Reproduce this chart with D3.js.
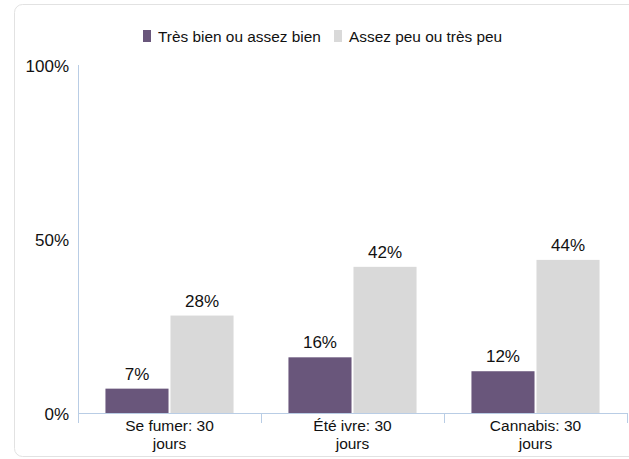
<!DOCTYPE html>
<html>
<head>
<meta charset="utf-8">
<script src="https://cdn.jsdelivr.net/npm/d3@7"></script>
<style>
body { margin: 0; background: #fff; }
text { font-family: "Liberation Sans", Arial, sans-serif; fill: #111; }
</style>
</head>
<body>
<div id="chart"></div>
<script>
// data
var categories = [["Se fumer: 30", "jours"], ["Été ivre: 30", "jours"], ["Cannabis: 30", "jours"]];
var series = ["Très bien ou assez bien", "Assez peu ou très peu"];
var goodValues = [7, 16, 12];
var lowValues = [28, 42, 44];
var yTicks = [0, 50, 100];
var colors = ["#69567b", "#d9d9d9"];

var svg = d3.select("#chart")
    .append("svg")
    .attr("width", 629)
    .attr("height", 459);

// card border
svg.append("rect")
    .attr("x", 14.5).attr("y", 4.5)
    .attr("width", 700).attr("height", 452)
    .attr("rx", 8)
    .style("fill", "#fff")
    .style("stroke", "#e2e2e2");

var plotLeft = 78, plotRight = 627, plotTop = 65, plotBottom = 413;

var x0 = d3.scaleBand()
    .domain(d3.range(categories.length))
    .range([plotLeft, plotRight])
    .paddingInner(0.3)
    .paddingOuter(0.15);

var x1 = d3.scaleBand()
    .domain(series)
    .range([0, x0.bandwidth()])
    .paddingInner(0.03);

var y = d3.scaleLinear().domain([0, 100]).range([plotBottom, plotTop]);

var rows = categories.map(function(c, i) {
    return [
        { key: series[0], value: goodValues[i] },
        { key: series[1], value: lowValues[i] }
    ];
});

// axes
var axisColor = "#b9cde5";
svg.append("line")
    .attr("x1", plotLeft + 0.5).attr("x2", plotLeft + 0.5)
    .attr("y1", y(100)).attr("y2", y(0))
    .style("stroke", axisColor);

var yAxis = svg.append("g")
    .attr("transform", "translate(" + (plotLeft - 9) + ",0)")
    .call(d3.axisLeft(y).tickValues(yTicks).tickSize(0).tickFormat(function(d) { return d + "%"; }));
yAxis.select(".domain").remove();
yAxis.selectAll("text")
    .style("font-size", "17px")
    .style("font-family", "Liberation Sans, Arial, sans-serif")
    .style("fill", "#111")
    .attr("x", 0)
    .attr("dy", "0.36em");

svg.append("line")
    .attr("x1", plotLeft).attr("x2", plotRight)
    .attr("y1", plotBottom + 0.5).attr("y2", plotBottom + 0.5)
    .style("stroke", axisColor);

var step = x0.step();
var bounds = d3.range(categories.length + 1).map(function(i) { return plotLeft + i * step; });
svg.selectAll(".xtick")
    .data(bounds)
    .enter().append("line")
    .attr("class", "xtick")
    .attr("x1", function(d) { return Math.round(d) + 0.5; })
    .attr("x2", function(d) { return Math.round(d) + 0.5; })
    .attr("y1", plotBottom)
    .attr("y2", plotBottom + 10)
    .style("stroke", axisColor);

// bars
var group = svg.selectAll(".grp")
    .data(rows)
    .enter().append("g")
    .attr("class", "grp")
    .attr("transform", function(d, i) { return "translate(" + x0(i) + ",0)"; });

group.selectAll("rect")
    .data(function(d) { return d; })
    .enter().append("rect")
    .attr("x", function(d) { return x1(d.key); })
    .attr("y", function(d) { return y(d.value); })
    .attr("width", x1.bandwidth())
    .attr("height", function(d) { return y(0) - y(d.value); })
    .style("fill", function(d, i) { return colors[i]; });

group.selectAll(".lbl")
    .data(function(d) { return d; })
    .enter().append("text")
    .attr("class", "lbl")
    .attr("x", function(d) { return x1(d.key) + x1.bandwidth() / 2; })
    .attr("y", function(d) { return y(d.value) - 9; })
    .attr("text-anchor", "middle")
    .style("font-size", "17px")
    .text(function(d) { return d.value + "%"; });

// category labels
var cat = svg.selectAll(".cat")
    .data(categories)
    .enter().append("text")
    .attr("class", "cat")
    .attr("text-anchor", "middle")
    .attr("x", function(d, i) { return x0(i) + x0.bandwidth() / 2; })
    .attr("y", 431)
    .style("font-size", "15.5px");
cat.selectAll("tspan")
    .data(function(d) { return d; })
    .enter().append("tspan")
    .attr("x", function() { return d3.select(this.parentNode).attr("x"); })
    .attr("dy", function(d, i) { return i ? 18 : 0; })
    .text(function(d) { return d; });

// legend
var legendX = [143, 334];
var legend = svg.selectAll(".leg")
    .data(series)
    .enter().append("g")
    .attr("class", "leg")
    .attr("transform", function(d, i) { return "translate(" + legendX[i] + ",30)"; });
legend.append("rect")
    .attr("width", 8).attr("height", 12)
    .style("fill", function(d, i) { return colors[i]; });
legend.append("text")
    .attr("x", 15).attr("y", 11.5)
    .style("font-size", "15.4px")
    .text(function(d) { return d; });
</script>
</body>
</html>
